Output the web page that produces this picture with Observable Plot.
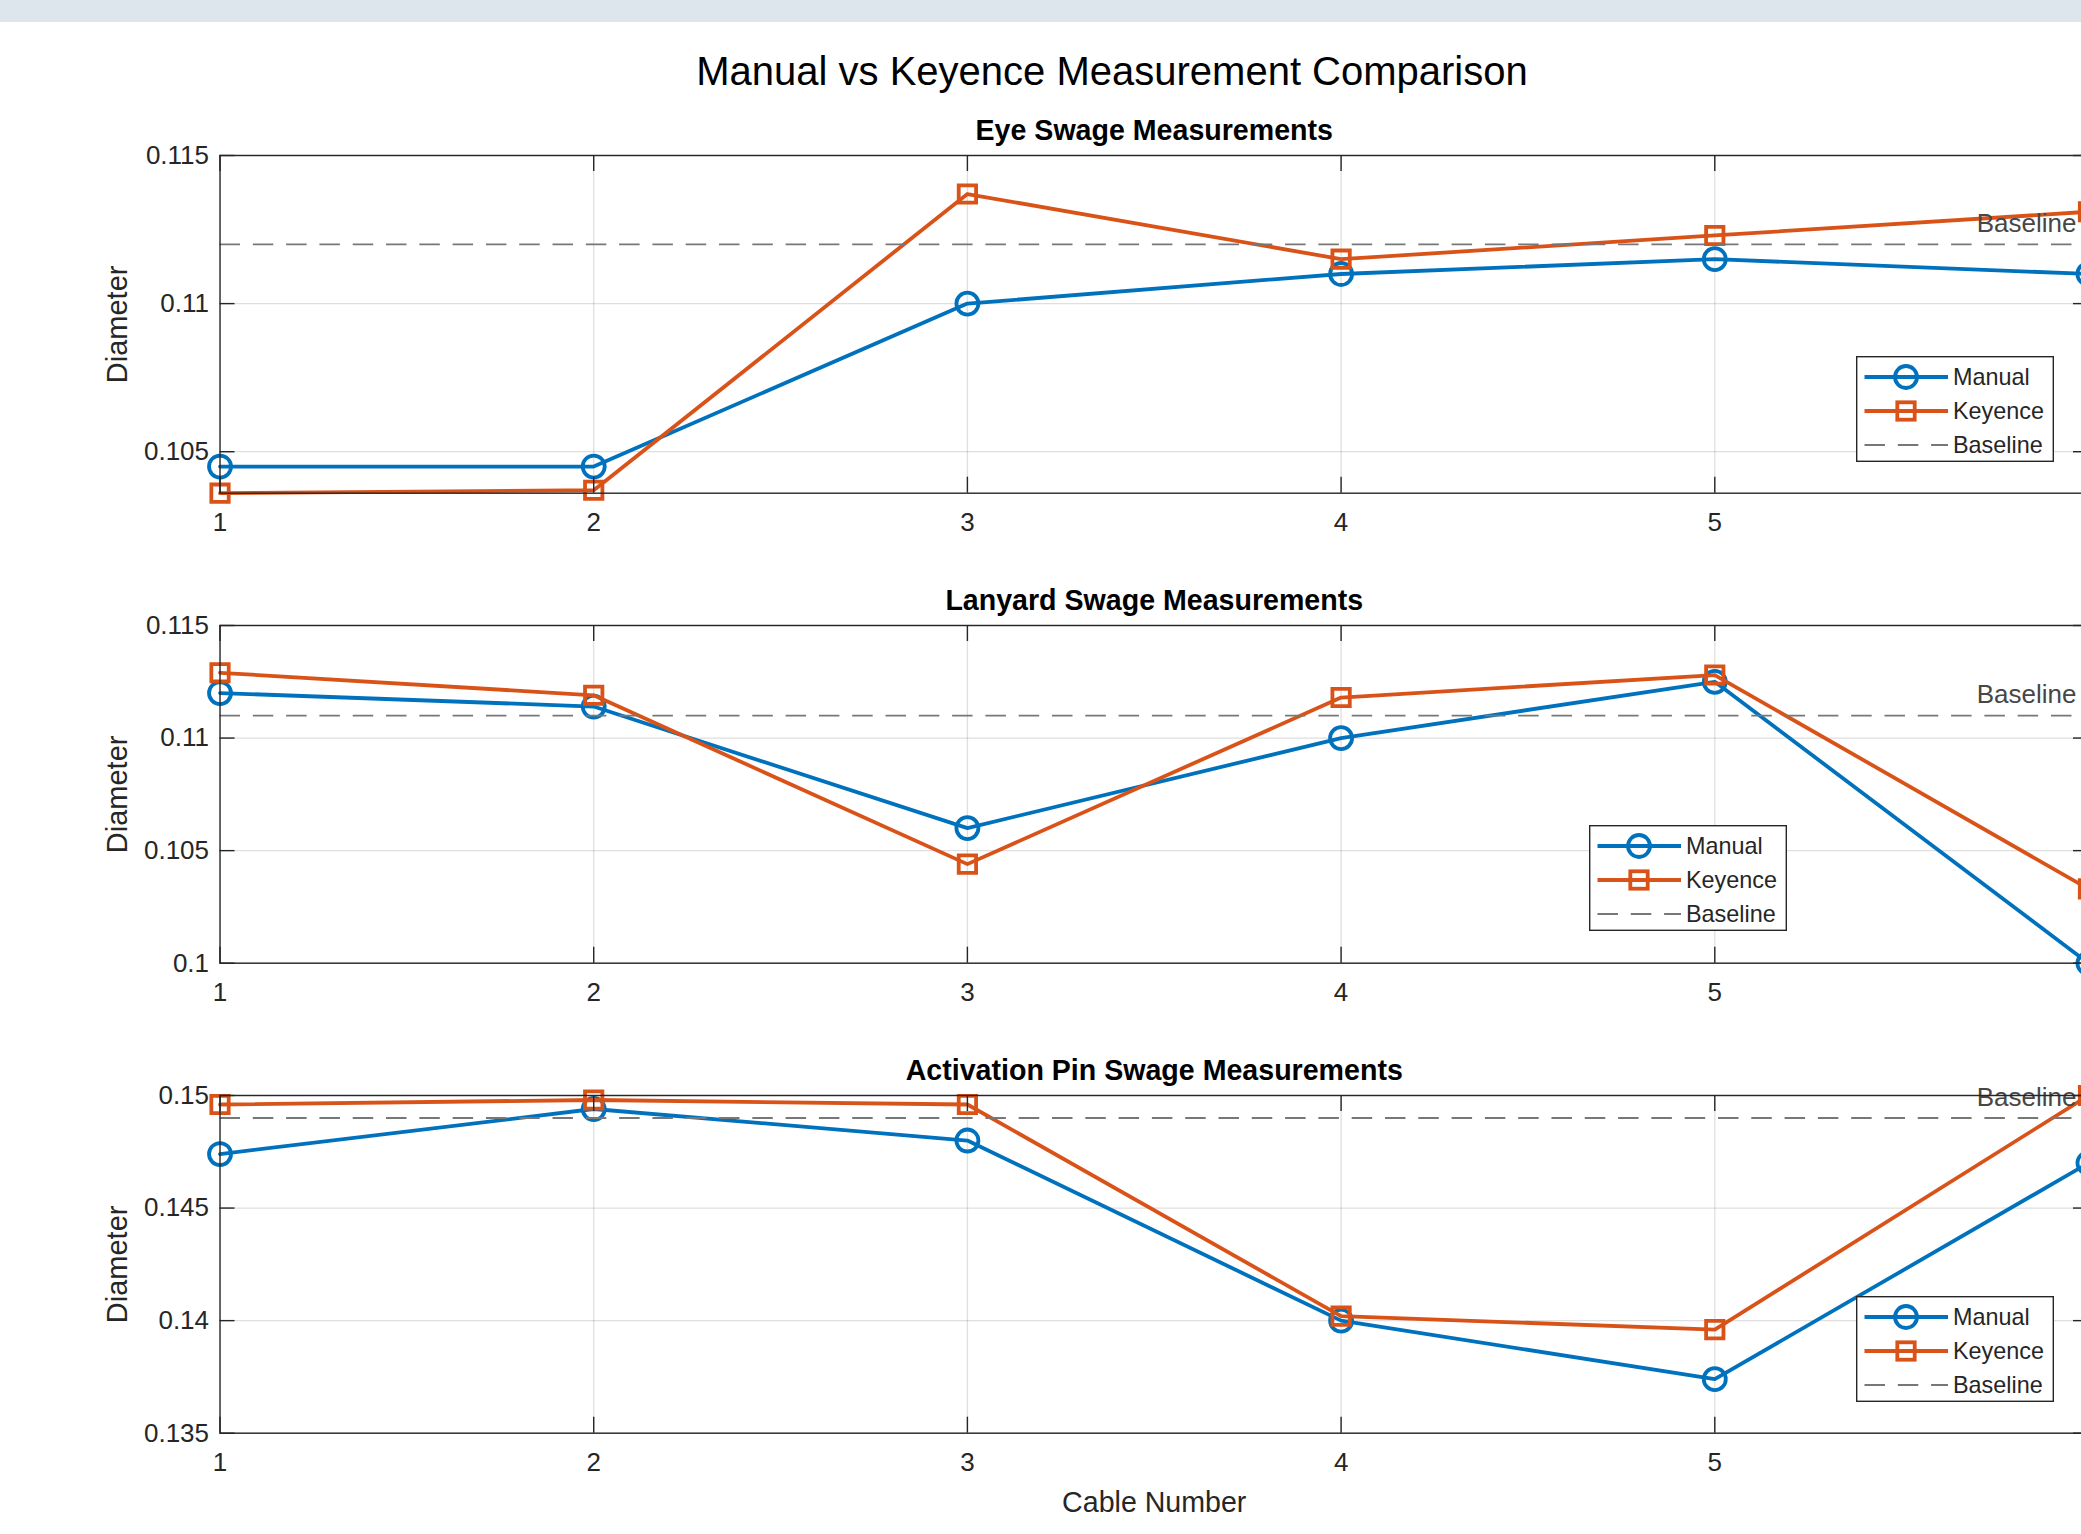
<!DOCTYPE html>
<html><head><meta charset="utf-8">
<script src="https://cdn.jsdelivr.net/npm/d3@7"></script>
<script src="https://cdn.jsdelivr.net/npm/@observablehq/plot@0.6"></script>
<style>
html,body{margin:0;padding:0;background:#fff;overflow:hidden;width:2081px;height:1534px;position:relative;}
#topband{position:absolute;left:0;top:0;width:2081px;height:22px;background:#dce6ec;}
#title{position:absolute;left:1112px;top:51px;transform:translateX(-50%);font-family:"Liberation Sans",Arial,sans-serif;font-size:40px;line-height:40px;color:#000;white-space:nowrap;}
.panel{position:absolute;left:0;}
.legend{position:absolute;}
</style></head><body>
<div id="topband"></div>
<div id="title">Manual vs Keyence Measurement Comparison</div>
<script>
// ---------------- data ----------------
const cables = [1, 2, 3, 4, 5, 6];
const xTicks = [1, 2, 3, 4, 5, 6];
const seriesNames = ["Manual", "Keyence"];
const baselineName = "Baseline";
const panelTitles = ["Eye Swage Measurements", "Lanyard Swage Measurements", "Activation Pin Swage Measurements"];
const yLabel = "Diameter";
const xLabel = "Cable Number";

const eyeManual = [0.1045, 0.1045, 0.1100, 0.1110, 0.1115, 0.1110];
const eyeKeyence = [0.1036, 0.1037, 0.1137, 0.1115, 0.1123, 0.1131];
const eyeBaseline = 0.112;
const eyeYTicks = [0.105, 0.11, 0.115];
const eyeYDomain = [0.1036, 0.115];

const lanyardManual = [0.1120, 0.1114, 0.1060, 0.1100, 0.1125, 0.1000];
const lanyardKeyence = [0.1129, 0.1119, 0.1044, 0.1118, 0.1128, 0.1033];
const lanyardBaseline = 0.111;
const lanyardYTicks = [0.1, 0.105, 0.11, 0.115];
const lanyardYDomain = [0.1, 0.115];

const pinManual = [0.1474, 0.1494, 0.1480, 0.1400, 0.1374, 0.1470];
const pinKeyence = [0.1496, 0.1498, 0.1496, 0.1402, 0.1396, 0.1500];
const pinBaseline = 0.149;
const pinYTicks = [0.135, 0.14, 0.145, 0.15];
const pinYDomain = [0.135, 0.15];

// ---------------- layout / style ----------------
const BLUE = "#0072BD", ORANGE = "#D95319", AXIS = "#262626";
const FONT = "'Liberation Sans', Arial, Helvetica, sans-serif";
const LW = 3.8;
const W = 2200, ML = 219.5, MR = W - 2088;
const axesTops = [154.5, 624.5, 1095];
const axesH = 337.7;
const MT = 60;
const MBs = [60, 60, 100];
const plotW = W - ML - MR;

const panels = [
  {manual: eyeManual, keyence: eyeKeyence, baseline: eyeBaseline, yTicks: eyeYTicks, domain: eyeYDomain, legend: [1856, 355.5]},
  {manual: lanyardManual, keyence: lanyardKeyence, baseline: lanyardBaseline, yTicks: lanyardYTicks, domain: lanyardYDomain, legend: [1589, 825]},
  {manual: pinManual, keyence: pinKeyence, baseline: pinBaseline, yTicks: pinYTicks, domain: pinYDomain, legend: [1856, 1295.5]}
];

panels.forEach((cfg, i) => {
  const MB = MBs[i];
  const H = MT + axesH + MB;
  const data = cables.map((c, j) => ({cable: c, manual: cfg.manual[j], keyence: cfg.keyence[j]}));
  const marks = [
    Plot.ruleX(xTicks.slice(1, -1), {x: d => d, stroke: AXIS, strokeOpacity: 0.15, strokeWidth: 1.3}),
    Plot.ruleY(cfg.yTicks, {y: d => d, stroke: AXIS, strokeOpacity: 0.15, strokeWidth: 1.3}),
    Plot.line(data, {x: "cable", y: "manual", stroke: BLUE, strokeWidth: LW}),
    Plot.dot(data, {x: "cable", y: "manual", symbol: "circle", r: 11, stroke: BLUE, fill: "none", strokeWidth: LW}),
    Plot.line(data, {x: "cable", y: "keyence", stroke: ORANGE, strokeWidth: LW}),
    Plot.dot(data, {x: "cable", y: "keyence", symbol: "square", r: 9.8, stroke: ORANGE, fill: "none", strokeWidth: LW}),
    Plot.ruleY([cfg.baseline], {y: d => d, stroke: "#777", strokeWidth: 1.8, strokeDasharray: "20.5,12.8"}),
    Plot.text([cfg.baseline], {y: d => d, text: () => baselineName, frameAnchor: "right", textAnchor: "end", lineAnchor: "bottom", dx: -12, dy: -12.5, fontSize: 26, fill: "#474747"}),
    Plot.frame({stroke: AXIS, strokeWidth: 1.4}),
    Plot.tickX(xTicks, {x: d => d, insetTop: axesH - 16, stroke: AXIS, strokeWidth: 1.4}),
    Plot.tickX(xTicks, {x: d => d, insetBottom: axesH - 16, stroke: AXIS, strokeWidth: 1.4}),
    Plot.tickY(cfg.yTicks, {y: d => d, insetRight: plotW - 15, stroke: AXIS, strokeWidth: 1.4}),
    Plot.tickY(cfg.yTicks, {y: d => d, insetLeft: plotW - 15, stroke: AXIS, strokeWidth: 1.4}),
    Plot.axisX({ticks: xTicks, tickSize: 0, tickPadding: 19.5, fontSize: 26, tickFormat: d3.format("d"), label: null, fill: AXIS}),
    Plot.axisY({ticks: cfg.yTicks, tickSize: 0, tickPadding: 11, fontSize: 26, tickFormat: d3.format("~g"), label: null, fill: AXIS}),
    Plot.text([panelTitles[i]], {text: d => d, frameAnchor: "top", lineAnchor: "bottom", dy: -15.5, fontSize: 28.6, fontWeight: "bold", fill: "#000"}),
    Plot.text([yLabel], {text: d => d, frameAnchor: "left", rotate: -90, dx: -102, fontSize: 29, textAnchor: "middle", lineAnchor: "middle", fill: AXIS})
  ];
  if (i === 2) marks.push(Plot.text([xLabel], {text: d => d, frameAnchor: "bottom", lineAnchor: "top", dy: 58, fontSize: 28.6, fill: AXIS}));
  const svg = Plot.plot({
    width: W, height: H,
    marginLeft: ML, marginRight: MR, marginTop: MT, marginBottom: MB,
    x: {domain: [1, 6], label: null},
    y: {domain: cfg.domain, label: null},
    style: `background:none;max-width:none;overflow:visible;font-family:${FONT};color:${AXIS};`,
    marks
  });
  const wrap = document.createElement("div");
  wrap.className = "panel";
  wrap.style.top = (axesTops[i] - MT) + "px";
  wrap.appendChild(svg);
  document.body.appendChild(wrap);

  // legend box (MATLAB-style, inside axes)
  const lw = 198, lh = 106;
  const lg = d3.select("body").append("div").attr("class", "legend")
    .style("left", cfg.legend[0] + "px").style("top", cfg.legend[1] + "px");
  const ls = lg.append("svg").attr("width", lw).attr("height", lh).style("display", "block").style("font-family", FONT);
  ls.append("rect").attr("x", 0.7).attr("y", 0.7).attr("width", lw - 1.4).attr("height", lh - 1.4)
    .attr("fill", "#fff").attr("stroke", AXIS).attr("stroke-width", 1.4);
  const rows = [
    {name: seriesNames[0], color: BLUE, symbol: "circle"},
    {name: seriesNames[1], color: ORANGE, symbol: "square"},
    {name: baselineName, color: "#777", symbol: null}
  ];
  rows.forEach((r, k) => {
    const cy = 21 + 34 * k;
    const ln = ls.append("line").attr("x1", 8.5).attr("x2", 92).attr("y1", cy).attr("y2", cy)
      .attr("stroke", r.color).attr("stroke-width", r.symbol ? LW : 1.8);
    if (!r.symbol) ln.attr("stroke-dasharray", "20.5,12.8");
    if (r.symbol === "circle") ls.append("circle").attr("cx", 50).attr("cy", cy).attr("r", 11).attr("fill", "none").attr("stroke", r.color).attr("stroke-width", LW);
    if (r.symbol === "square") ls.append("rect").attr("x", 50 - 8.7).attr("y", cy - 8.7).attr("width", 17.4).attr("height", 17.4).attr("fill", "none").attr("stroke", r.color).attr("stroke-width", LW);
    ls.append("text").attr("x", 97).attr("y", cy).attr("dy", "0.35em").attr("font-size", 23.4).attr("fill", AXIS).text(r.name);
  });
});
</script>
</body></html>
